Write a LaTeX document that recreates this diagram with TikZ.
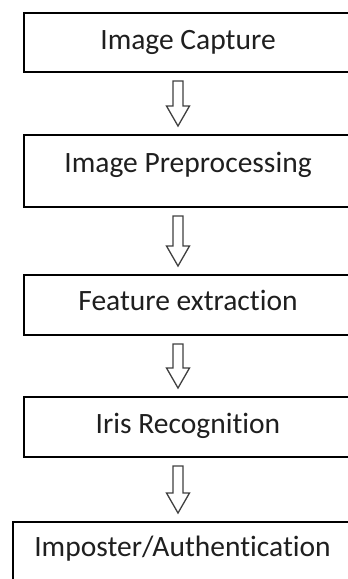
\documentclass[tikz,border=0pt]{standalone}
\usepackage{fontspec}
\setmainfont[Ligatures={NoCommon}]{Carlito}
\usetikzlibrary{calc}

\tikzset{
  stepbox/.style={draw=black, line width=2pt, minimum width=328pt, inner sep=0pt,
    text=black!88, text height=19pt, text depth=6pt,
    font=\fontsize{29.5}{35}\selectfont},
  hollowarrow/.style={draw=black!75, line width=1.3pt, line join=miter,
    to path={($(\tikztostart)+(-5,8)$) -- ($(\tikztotarget)+(-5,-28)$) -- ++(-6.5,0)
      -- ($(\tikztotarget)+(0,-8)$) -- ($(\tikztotarget)+(11.5,-28)$) -- ++(-6.5,0)
      -- ($(\tikztostart)+(5,8)$) -- cycle}}
}

\begin{document}
\begin{tikzpicture}[x=1pt,y=-1pt]
\clip (0,0) rectangle (348,579);
\fill[white] (0,0) rectangle (348,579);

\coordinate (mid) at (178,0);

% the five stages
\node[stepbox, minimum height=59pt] (cap) at (188,42.5) {Image Capture};
\node[stepbox, minimum height=72pt, text depth=16pt] (pre) at (188,171) {Image Preprocessing};
\node[stepbox, minimum height=60pt, text depth=8pt] (feat) at (188,305) {Feature extraction};
\node[stepbox, minimum height=60pt] (iris) at (188,427) {Iris Recognition};
\node[stepbox, minimum width=339pt, minimum height=78pt, text depth=28pt] (auth) at (182.5,561) {Imposter/Authentication};

% block arrows
\draw[hollowarrow] (cap.south -| mid) to (pre.north -| mid);
\draw[hollowarrow] (pre.south -| mid) to (feat.north -| mid);
\draw[hollowarrow] (feat.south -| mid) to (iris.north -| mid);
\draw[hollowarrow] (iris.south -| mid) to (auth.north -| mid);

\end{tikzpicture}
\end{document}
